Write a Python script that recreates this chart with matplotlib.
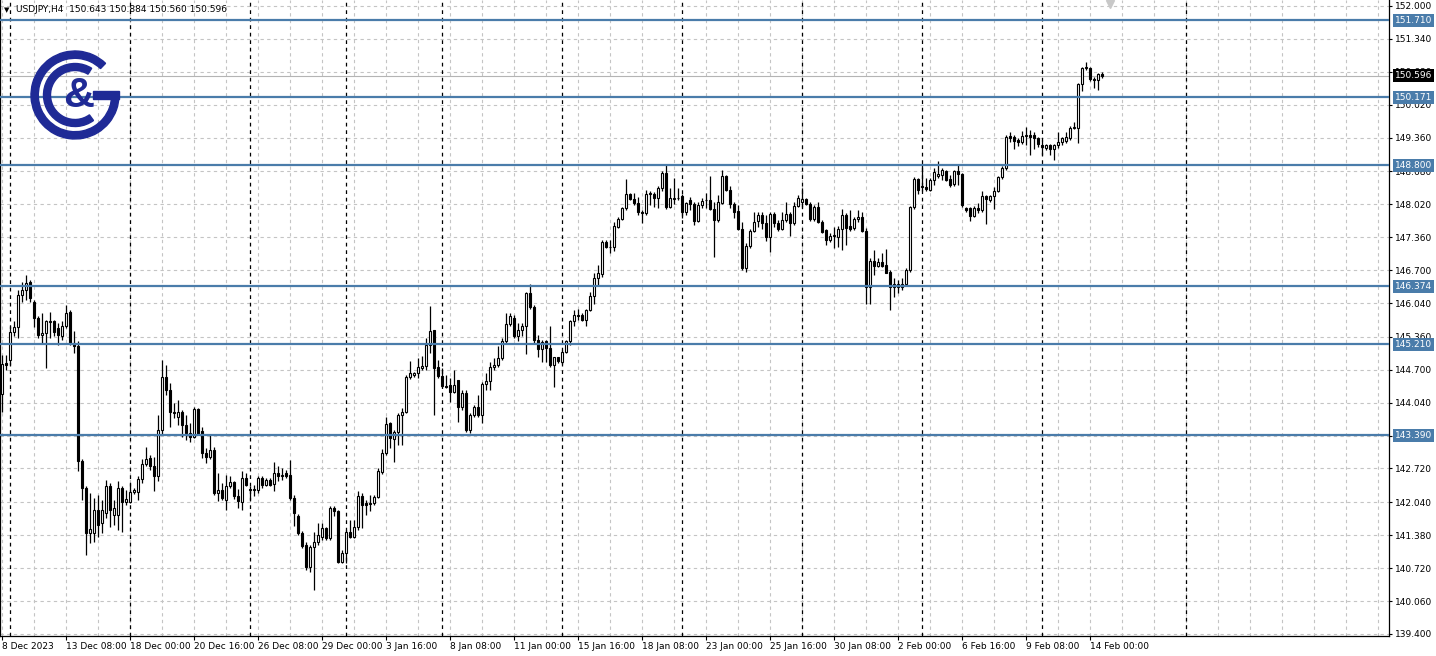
import matplotlib
matplotlib.use("Agg")
import matplotlib.pyplot as plt
from matplotlib.patches import Wedge, Rectangle
import numpy as np

# USDJPY H4 candles (8 Dec 2023 16:00 .. 14 Feb 2024 12:00)
opens = [
    144.22, 144.83, 144.90, 145.45, 145.55, 146.20, 146.30, 146.47, 146.07, 145.73,
    145.39, 145.43, 145.65, 145.67, 145.53, 145.37, 145.57, 145.85, 145.23, 145.18,
    142.88, 142.32, 141.42, 141.42, 141.89, 141.62, 141.82, 142.36, 141.79, 141.79,
    142.32, 142.04, 142.05, 142.24, 142.24, 142.50, 142.82, 142.94, 142.76, 142.56,
    143.49, 144.56, 144.30, 143.86, 143.76, 143.86, 143.59, 143.43, 143.35, 143.91,
    143.48, 143.04, 142.96, 143.09, 142.22, 142.29, 142.09, 142.37, 142.44, 142.16,
    142.04, 142.52, 142.30, 142.28, 142.29, 142.52, 142.39, 142.49, 142.41, 142.62,
    142.57, 142.62, 142.59, 142.12, 141.76, 141.42, 141.19, 140.75, 141.15, 141.25,
    141.35, 141.52, 141.32, 141.92, 141.86, 140.85, 141.02, 141.45, 141.35, 141.55,
    142.16, 142.02, 142.00, 142.02, 142.14, 142.64, 143.03, 143.63, 143.31, 143.46,
    143.80, 143.86, 144.55, 144.59, 144.63, 144.73, 144.77, 145.20, 145.49, 144.75,
    144.57, 144.38, 144.40, 144.26, 144.49, 143.96, 144.23, 143.49, 143.80, 143.95,
    143.79, 144.42, 144.48, 144.75, 144.80, 144.93, 145.28, 145.62, 145.73, 145.37,
    145.50, 145.57, 146.25, 145.97, 145.29, 145.11, 145.27, 145.13, 144.80, 144.95,
    144.86, 145.06, 145.27, 145.67, 145.80, 145.80, 145.69, 145.90, 146.18, 146.54,
    146.62, 147.27, 147.17, 147.17, 147.57, 147.72, 147.95, 148.22, 148.13, 148.04,
    147.86, 147.84, 148.22, 148.22, 148.14, 148.34, 148.64, 147.97, 148.13, 148.14,
    148.19, 147.86, 148.11, 148.02, 147.69, 148.00, 148.10, 148.11, 147.93, 147.71,
    148.04, 148.58, 148.31, 148.02, 147.89, 147.53, 146.75, 147.19, 147.49, 147.69,
    147.81, 147.64, 147.37, 147.82, 147.64, 147.53, 147.71, 147.82, 147.64, 147.99,
    148.07, 148.12, 148.03, 147.72, 147.96, 147.67, 147.51, 147.31, 147.39, 147.37,
    147.52, 147.81, 147.59, 147.54, 147.72, 147.77, 147.49, 146.36, 146.89, 146.78,
    146.87, 146.80, 146.67, 146.42, 146.36, 146.36, 146.42, 146.70, 147.96, 148.52,
    148.39, 148.36, 148.31, 148.51, 148.59, 148.61, 148.68, 148.52, 148.43, 148.68,
    148.63, 147.94, 147.94, 147.79, 147.95, 147.91, 148.18, 148.11, 148.18, 148.29,
    148.56, 148.74, 149.40, 149.38, 149.31, 149.27, 149.39, 149.41, 149.41, 149.35,
    149.21, 149.16, 149.21, 149.14, 149.21, 149.27, 149.29, 149.36, 149.56, 149.56,
    150.43, 150.76, 150.75, 150.54, 150.52, 150.643,
]
highs = [
    145.00, 145.00, 145.57, 145.67, 146.30, 146.47, 146.60, 146.50, 146.10, 145.77,
    145.83, 145.70, 145.85, 145.70, 145.63, 145.67, 146.00, 145.90, 145.47, 145.27,
    142.92, 142.36, 142.22, 142.12, 142.19, 142.09, 142.49, 142.42, 142.09, 142.46,
    142.36, 142.29, 142.42, 142.32, 142.56, 142.92, 143.16, 142.99, 142.96, 143.79,
    144.90, 144.80, 144.43, 144.03, 144.10, 143.90, 143.80, 143.63, 143.96, 143.93,
    143.56, 143.13, 143.41, 143.15, 142.62, 142.42, 142.59, 142.56, 142.46, 142.30,
    142.66, 142.62, 142.36, 142.39, 142.56, 142.56, 142.52, 142.52, 142.86, 142.76,
    142.72, 142.69, 142.89, 142.19, 141.81, 141.46, 141.25, 141.19, 141.45, 141.62,
    141.62, 141.55, 141.96, 141.96, 141.89, 141.09, 141.49, 141.69, 141.69, 142.26,
    142.22, 142.09, 142.19, 142.19, 142.73, 143.11, 143.76, 143.66, 143.49, 143.83,
    143.93, 144.60, 144.87, 144.66, 144.93, 144.97, 145.33, 145.98, 145.50, 144.90,
    144.73, 144.60, 144.53, 144.70, 144.50, 144.30, 144.30, 143.83, 144.00, 144.20,
    144.45, 144.63, 144.86, 144.93, 145.17, 145.33, 145.83, 145.83, 145.80, 145.63,
    145.63, 146.27, 146.42, 146.00, 145.40, 145.30, 145.30, 145.57, 144.96, 144.96,
    145.10, 145.30, 145.70, 145.90, 145.93, 145.83, 145.93, 146.27, 146.64, 146.80,
    147.30, 147.30, 147.30, 147.67, 147.77, 147.97, 148.52, 148.24, 148.24, 148.16,
    147.91, 148.31, 148.29, 148.27, 148.38, 148.69, 148.81, 148.34, 148.54, 148.34,
    148.22, 148.07, 148.17, 148.07, 148.07, 148.14, 148.24, 148.58, 148.07, 148.21,
    148.71, 148.61, 148.38, 148.07, 148.01, 147.67, 147.24, 147.53, 147.86, 147.87,
    147.86, 147.81, 147.87, 147.87, 147.71, 147.87, 148.07, 147.87, 148.07, 148.21,
    148.34, 148.14, 148.07, 148.01, 148.07, 147.71, 147.52, 147.44, 147.57, 147.59,
    147.92, 147.84, 147.91, 147.77, 147.91, 147.87, 147.54, 146.94, 147.10, 146.94,
    147.04, 147.12, 146.70, 146.54, 146.50, 146.54, 146.74, 147.99, 148.56, 148.54,
    148.81, 148.54, 148.54, 148.74, 148.88, 148.74, 148.71, 148.61, 148.71, 148.81,
    148.64, 147.97, 147.97, 147.99, 148.04, 148.28, 148.21, 148.21, 148.37, 148.58,
    148.78, 149.41, 149.48, 149.41, 149.36, 149.49, 149.58, 149.51, 149.48, 149.38,
    149.31, 149.24, 149.24, 149.24, 149.47, 149.38, 149.47, 149.60, 149.68, 150.45,
    150.78, 150.87, 150.78, 150.58, 150.65, 150.68,
]
lows = [
    143.86, 144.70, 144.80, 145.37, 145.33, 146.07, 146.10, 146.07, 145.55, 145.33,
    145.23, 144.73, 145.33, 145.37, 145.20, 145.30, 145.53, 145.20, 145.03, 142.66,
    142.08, 140.98, 141.22, 141.25, 141.35, 141.42, 141.72, 141.55, 141.59, 141.49,
    141.45, 141.99, 142.02, 142.21, 142.09, 142.42, 142.76, 142.69, 142.26, 142.46,
    143.40, 144.20, 143.56, 143.73, 143.59, 143.36, 143.29, 143.26, 143.33, 143.39,
    142.93, 142.83, 142.92, 142.19, 142.06, 142.09, 141.89, 142.32, 142.10, 141.93,
    141.89, 142.36, 142.09, 142.16, 142.22, 142.32, 142.36, 142.36, 142.26, 142.46,
    142.49, 142.52, 142.09, 141.57, 141.39, 141.12, 140.69, 140.65, 140.28, 141.18,
    141.29, 141.29, 141.29, 141.76, 140.82, 140.82, 140.82, 141.32, 141.32, 141.49,
    141.52, 141.79, 141.86, 141.99, 142.12, 142.61, 142.99, 143.13, 142.86, 143.19,
    143.19, 143.84, 144.51, 144.55, 144.53, 144.70, 144.70, 145.03, 143.80, 144.53,
    144.36, 144.33, 144.06, 144.23, 143.66, 143.90, 143.46, 143.43, 143.76, 143.75,
    143.63, 144.30, 144.30, 144.70, 144.76, 144.90, 145.23, 145.57, 145.33, 145.27,
    145.37, 145.02, 145.93, 145.23, 144.96, 144.86, 144.86, 144.76, 144.35, 144.83,
    144.82, 145.03, 145.20, 145.57, 145.70, 145.67, 145.57, 145.87, 146.03, 146.40,
    146.57, 147.14, 147.04, 147.09, 147.54, 147.71, 147.91, 148.11, 148.01, 147.81,
    147.64, 147.81, 148.01, 147.97, 147.94, 148.29, 147.93, 147.94, 148.02, 148.11,
    147.74, 147.81, 147.91, 147.61, 147.67, 147.94, 147.94, 147.91, 146.97, 147.67,
    148.02, 148.28, 147.94, 147.74, 147.51, 146.70, 146.66, 147.15, 147.47, 147.57,
    147.53, 147.29, 147.07, 147.57, 147.49, 147.51, 147.67, 147.39, 147.61, 147.97,
    147.97, 148.01, 147.69, 147.69, 147.64, 147.44, 147.21, 147.27, 147.14, 147.17,
    147.10, 147.21, 147.49, 147.51, 147.67, 147.47, 146.02, 146.02, 146.60, 146.76,
    146.76, 146.64, 145.89, 146.17, 146.24, 146.30, 146.38, 146.67, 147.92, 148.23,
    148.28, 148.28, 148.28, 148.41, 148.54, 148.50, 148.48, 148.36, 148.39, 148.41,
    147.97, 147.87, 147.69, 147.77, 147.84, 147.87, 147.62, 148.07, 147.93, 148.26,
    148.53, 148.71, 149.28, 149.14, 149.20, 149.24, 149.21, 149.01, 149.14, 149.18,
    149.01, 149.11, 149.02, 148.91, 149.16, 149.22, 149.26, 149.31, 149.53, 149.26,
    150.30, 150.72, 150.50, 150.35, 150.31, 150.56,
]
closes = [
    144.81, 144.80, 145.45, 145.55, 146.20, 146.30, 146.45, 146.14, 145.73, 145.40,
    145.43, 145.67, 145.68, 145.45, 145.39, 145.57, 145.83, 145.23, 145.18, 142.88,
    142.32, 141.42, 141.50, 141.89, 141.59, 141.89, 142.36, 141.89, 141.92, 142.32,
    142.05, 142.10, 142.25, 142.28, 142.50, 142.82, 142.92, 142.76, 142.56, 143.49,
    144.56, 144.30, 143.86, 143.84, 143.86, 143.59, 143.43, 143.35, 143.91, 143.41,
    143.04, 142.96, 143.09, 142.22, 142.29, 142.12, 142.37, 142.44, 142.16, 142.06,
    142.52, 142.39, 142.28, 142.30, 142.52, 142.39, 142.49, 142.39, 142.62, 142.57,
    142.59, 142.56, 142.12, 141.82, 141.42, 141.17, 140.75, 141.15, 141.25, 141.38,
    141.52, 141.32, 141.92, 141.86, 140.85, 141.02, 141.45, 141.35, 141.55, 142.16,
    141.99, 141.98, 142.02, 142.14, 142.66, 143.03, 143.61, 143.33, 143.46, 143.80,
    143.86, 144.56, 144.63, 144.64, 144.75, 144.77, 145.20, 145.47, 144.73, 144.58,
    144.38, 144.36, 144.26, 144.40, 143.96, 144.23, 143.49, 143.80, 143.95, 143.79,
    144.42, 144.48, 144.75, 144.80, 144.93, 145.28, 145.62, 145.77, 145.37, 145.50,
    145.57, 146.25, 145.97, 145.29, 145.11, 145.25, 145.13, 144.80, 144.95, 144.88,
    145.06, 145.27, 145.67, 145.80, 145.77, 145.69, 145.90, 146.18, 146.54, 146.64,
    147.27, 147.17, 147.16, 147.59, 147.72, 147.95, 148.22, 148.13, 148.04, 147.86,
    147.84, 148.22, 148.24, 148.14, 148.34, 148.64, 147.97, 148.14, 148.14, 148.15,
    147.86, 148.04, 148.02, 147.69, 148.00, 148.09, 148.11, 147.93, 147.71, 148.07,
    148.58, 148.31, 148.02, 147.86, 147.53, 146.74, 147.19, 147.49, 147.67, 147.81,
    147.64, 147.37, 147.82, 147.64, 147.53, 147.71, 147.82, 147.64, 147.99, 148.14,
    148.12, 148.03, 147.72, 147.96, 147.67, 147.47, 147.31, 147.39, 147.40, 147.52,
    147.81, 147.54, 147.52, 147.72, 147.77, 147.49, 146.36, 146.89, 146.78, 146.87,
    146.78, 146.65, 146.36, 146.36, 146.42, 146.42, 146.70, 147.96, 148.52, 148.30,
    148.37, 148.32, 148.51, 148.66, 148.63, 148.70, 148.51, 148.41, 148.68, 148.63,
    148.01, 147.91, 147.79, 147.94, 147.91, 148.18, 148.13, 148.18, 148.29, 148.56,
    148.74, 149.38, 149.35, 149.29, 149.27, 149.39, 149.41, 149.38, 149.35, 149.24,
    149.18, 149.21, 149.14, 149.21, 149.27, 149.36, 149.38, 149.56, 149.58, 150.43,
    150.76, 150.78, 150.54, 150.52, 150.63, 150.596,
]

# one time label every 16 bars, starting at bar 0
time_labels = ["8 Dec 2023", "13 Dec 08:00", "18 Dec 00:00", "20 Dec 16:00",
               "26 Dec 08:00", "29 Dec 00:00", "3 Jan 16:00", "8 Jan 08:00",
               "11 Jan 00:00", "15 Jan 16:00", "18 Jan 08:00", "23 Jan 00:00",
               "25 Jan 16:00", "30 Jan 08:00", "2 Feb 00:00", "6 Feb 16:00",
               "9 Feb 08:00", "14 Feb 00:00"]
# bars where a new week starts (period separators)
week_starts = [2, 32, 62, 86, 110, 140, 170, 200, 230, 260, 296]

price_ticks = [152.000, 151.340, 150.680, 150.020, 149.360, 148.680, 148.020,
               147.360, 146.700, 146.040, 145.360, 144.700, 144.040, 143.380,
               142.720, 142.040, 141.380, 140.720, 140.060, 139.400]
levels = [151.710, 150.171, 148.800, 146.374, 145.210, 143.390]
last_price = 150.596
title = "USDJPY,H4  150.643 150.884 150.560 150.596"

W, H = 1436, 656
LEVEL_BLUE = "#4a7caa"
GRID = "#c4c4c4"
FS = 6.5

fig = plt.figure(figsize=(W / 100, H / 100), dpi=100)
ax = fig.add_axes([0, 20 / H, 1389 / W, 636 / H])

o = np.array(opens)
h = np.array(highs)
l = np.array(lows)
c = np.array(closes)
x = np.arange(len(o))

ax.set_xlim(-0.575, 346.7)
ax.set_ylim(139.359, 152.120)

# grid
for p in price_ticks:
    ax.axhline(p, color=GRID, lw=0.8, ls=(0, (3, 3)), zorder=0)
for k in range(0, 347, 8):
    ax.axvline(k, color=GRID, lw=0.8, ls=(0, (3, 3)), zorder=0)
for w in week_starts:
    ax.axvline(w, color="black", lw=0.9, ls=(0, (3, 3)), zorder=1)

# last price line
ax.axhline(last_price, color="#b4b4b4", lw=0.8, zorder=2)

# candles
up = c >= o
ax.vlines(x, l, h, color="black", lw=0.9, zorder=3)
body = np.maximum(np.abs(c - o), 0.004)
ax.bar(x, body, bottom=np.minimum(o, c), width=0.5,
       color=np.where(up, "white", "black"), edgecolor="black",
       linewidth=0.8, zorder=4)

# horizontal levels
for lv in levels:
    ax.axhline(lv, color=LEVEL_BLUE, lw=1.6, zorder=5)

# axes styling
ax.spines["top"].set_visible(False)
for side in ["left", "right", "bottom"]:
    ax.spines[side].set_color("black")
    ax.spines[side].set_linewidth(0.9)
ax.yaxis.tick_right()
ax.set_yticks(price_ticks)
ax.set_yticklabels([f"{p:.3f}" for p in price_ticks])
ax.tick_params(axis="y", direction="out", length=2.5, width=0.8, pad=2,
               labelsize=FS, colors="black")
ax.set_xticks(np.arange(len(time_labels)) * 16)
ax.set_xticklabels(time_labels, ha="left")
ax.tick_params(axis="x", direction="out", length=3, width=0.8, pad=1.5,
               labelsize=FS)

# price boxes on the right scale
for lv in levels:
    ax.annotate(f"{lv:.3f}", xy=(1, lv), xycoords=("axes fraction", "data"),
                xytext=(4.4, 0), textcoords="offset points", ha="left",
                va="center", fontsize=FS, color="white", zorder=10,
                annotation_clip=False,
                bbox=dict(boxstyle="square,pad=0.22", fc=LEVEL_BLUE, ec="none"))
ax.annotate(f"{last_price:.3f}", xy=(1, last_price),
            xycoords=("axes fraction", "data"), xytext=(4.4, 0),
            textcoords="offset points", ha="left", va="center", fontsize=FS,
            color="white", zorder=10, annotation_clip=False,
            bbox=dict(boxstyle="square,pad=0.22", fc="black", ec="none"))

# title line
fig.text(4 / W, 1 - 10 / H, "\u25BC", fontsize=5, va="center", ha="left")
fig.text(16 / W, 1 - 10 / H, title, fontsize=FS, va="center", ha="left")
ax.plot([0.799], [0.994], marker="v", color="#c8c8c8", ms=6,
        transform=ax.transAxes, clip_on=False, zorder=6)

# C&G logo
NAVY = "#1f2a96"
lg = fig.add_axes([25 / W, 1 - 145 / H, 100 / W, 100 / H])
lg.set_xlim(25, 125)
lg.set_ylim(H - 145, H - 45)
lg.axis("off")
cx, cy = 75, H - 95
lg.add_patch(Wedge((cx, cy), 44, 46, 360, width=7.3, color=NAVY))
lg.add_patch(Rectangle((93, cy - 3.8), 26, 7.6, color=NAVY))
lg.add_patch(Wedge((cx, cy), 31.5, 58, 306, width=7.0, color=NAVY))
lg.text(78.5, cy - 1, "&", fontsize=31, fontweight="bold", color=NAVY,
        family="Liberation Sans", ha="center", va="center")

fig.savefig("out.png", dpi=100)
